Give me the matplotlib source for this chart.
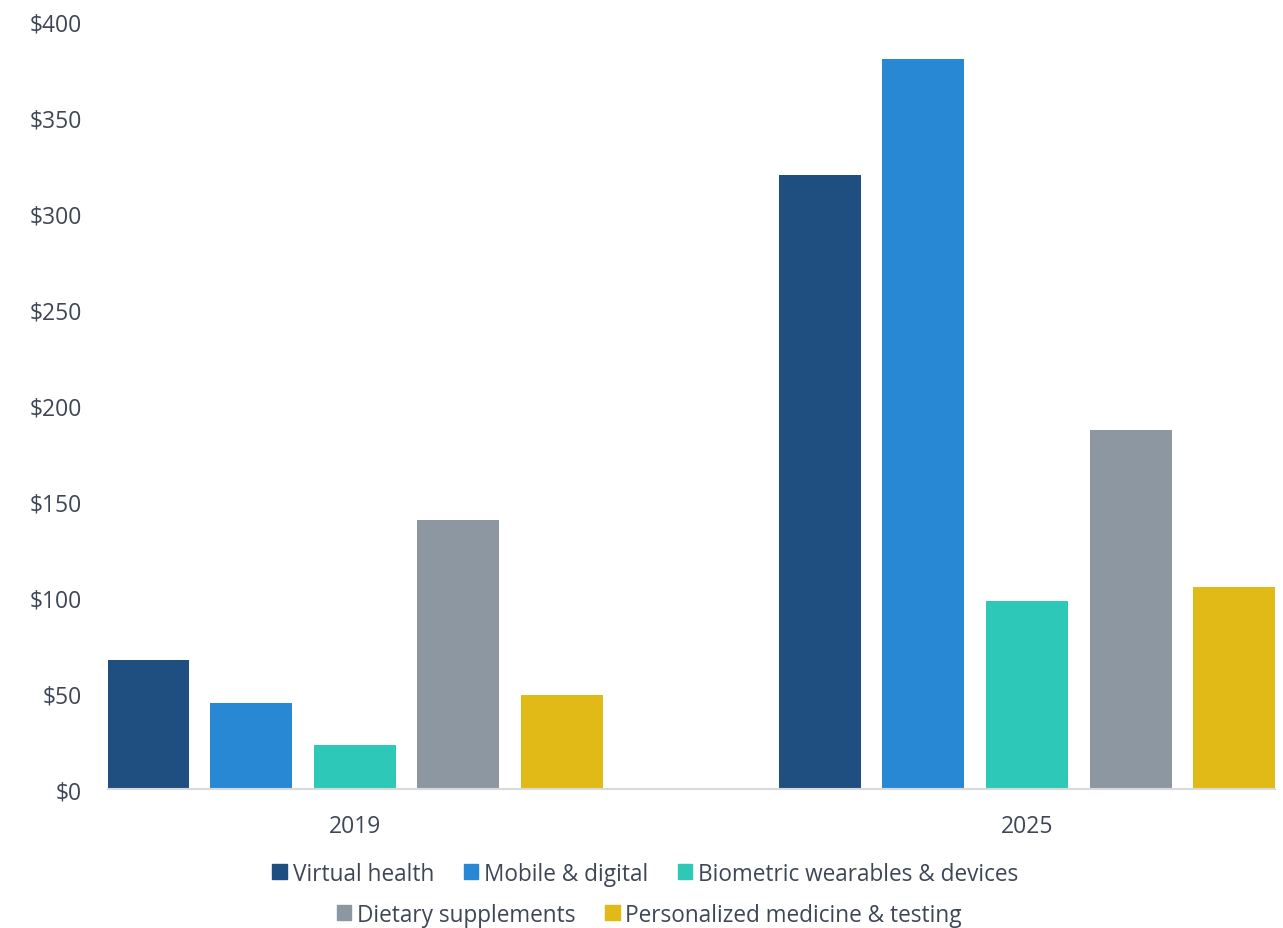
import matplotlib.pyplot as plt
import numpy as np
from matplotlib.patches import Patch

years = ['2019', '2025']
series = ['Virtual health', 'Mobile & digital', 'Biometric wearables & devices',
          'Dietary supplements', 'Personalized medicine & testing']
virtual_health = [67, 320]
mobile_digital = [45, 380]
biometric = [23, 98]
dietary = [140, 187]
personalized = [49, 105]
values = [virtual_health, mobile_digital, biometric, dietary, personalized]
colors = ['#1F4E80', '#2988D3', '#2DC8B7', '#8D97A2', '#E1BA18']
yticks = [0, 50, 100, 150, 200, 250, 300, 350, 400]

txt = '#3E4756'
plt.rcParams['font.family'] = ['Open Sans', 'DejaVu Sans']

fig = plt.figure(figsize=(12.83, 9.29), dpi=100)
ax = fig.add_axes([0.0842, 0.1496, 0.9096, 0.8267])

x = np.arange(len(years))
step = 0.154
width = 0.122
for i, (vals, c) in enumerate(zip(values, colors)):
    ax.bar(x + (i - 2) * step, vals, width=width, color=c, label=series[i])

ax.set_xlim(-0.367, 1.369)
ax.set_ylim(0, 400)
ax.set_yticks(yticks)
ax.set_yticklabels(['$' + str(v) for v in yticks])
ax.set_xticks(x)
ax.set_xticklabels(years)
ax.tick_params(axis='both', length=0, labelsize=16.5, labelcolor=txt)
ax.tick_params(axis='y', pad=19)
ax.tick_params(axis='x', pad=18)
for s in ['top', 'right', 'left']:
    ax.spines[s].set_visible(False)
ax.spines['bottom'].set_color('#D9D9D9')
ax.spines['bottom'].set_linewidth(1.5)

handles = [Patch(color=c) for c in colors]
kw = dict(frameon=False, fontsize=16.3, handlelength=0.65, handleheight=0.65,
          handletextpad=0.25, columnspacing=1.3, labelcolor=txt, loc='center')
leg1 = fig.legend(handles[:3], series[:3], ncol=3, bbox_to_anchor=(0.503, 0.0585), **kw)
leg2 = fig.legend(handles[3:], series[3:], ncol=2, bbox_to_anchor=(0.506, 0.0145), **kw)

fig.savefig('out.png', dpi=100)
